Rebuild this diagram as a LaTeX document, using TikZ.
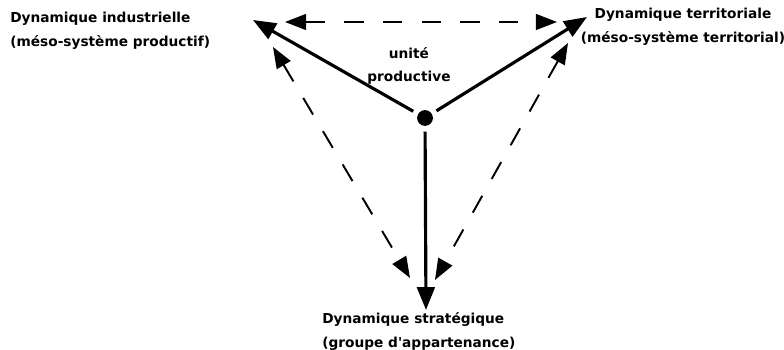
\documentclass[tikz,border=0pt]{standalone}
\usepackage{fontspec}
\setmainfont{DejaVu Sans}[Ligatures=TeXOff]
\usetikzlibrary{arrows.meta}

\tikzset{
  lbl/.style={font=\fontsize{7.8}{13.6}\selectfont\bfseries, inner sep=0pt},
  fleche/.style={line width=1.8pt, shorten <=3pt, -{Triangle[length=13pt,width=10pt]}},
  tirets/.style={line width=1.1pt, dash pattern=on 11pt off 11pt,
    {Triangle[length=12pt,width=9pt]}-{Triangle[length=12pt,width=9pt]}},
}

\begin{document}
\begin{tikzpicture}[x=0.02cm, y=-0.02cm]
\useasboundingbox (0,0) rectangle (784,350);
% the three dynamics
\node[lbl, align=left, anchor=north west] (indus) at (10,12) {Dynamique industrielle\\(méso-système productif)};
\node[lbl, align=center, anchor=north] (territ) at (683,8) {Dynamique territoriale\\(méso-système territorial)};
\node[lbl, align=left, anchor=north west] (strat) at (322,312) {Dynamique stratégique\\(groupe d'appartenance)};
% productive unit
\node[circle, fill, inner sep=0pt, minimum size=9pt] (up) at (425,118) {};
\node[lbl, align=center] (unite) at (409,66) {unité\\productive};
% arrow ends
\coordinate (indA) at (253,20);
\coordinate (terA) at (587,17);
\coordinate (strA) at (426,310);
\coordinate (indB) at (285,22);
\coordinate (terB) at (557,22);
\coordinate (indC) at (273,47);
\coordinate (strC) at (410,278);
\coordinate (terC) at (568,43);
\coordinate (strD) at (435,280);
% solid arrows from the unit
\draw[fleche] (up) -- (indA);
\draw[fleche] (up) -- (terA);
\draw[fleche] (up) -- (strA);
% dashed links between dynamics
\draw[tirets] (indB) -- (terB);
\draw[tirets] (indC) -- (strC);
\draw[tirets] (terC) -- (strD);
\end{tikzpicture}
\end{document}
